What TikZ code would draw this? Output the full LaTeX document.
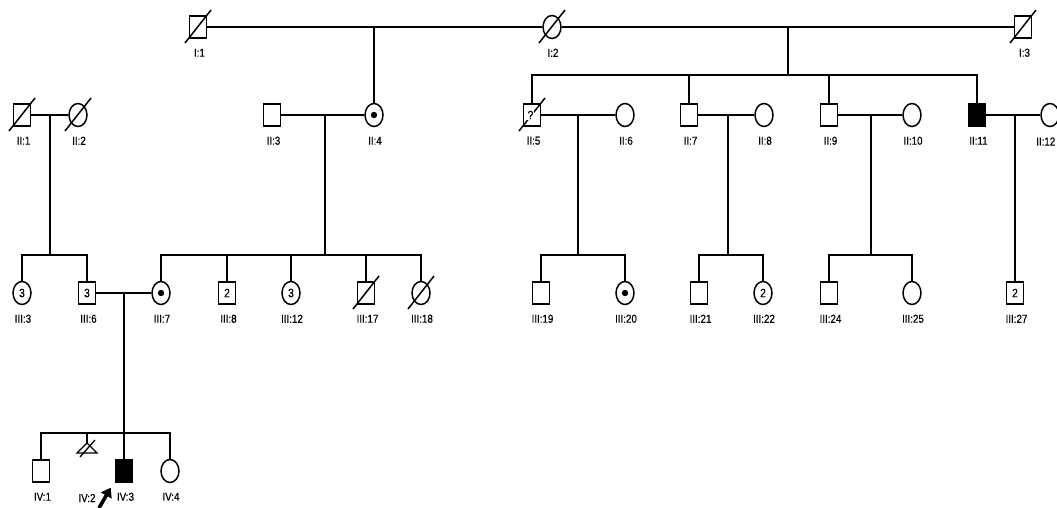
\documentclass[tikz,border=0pt]{standalone}
\usepackage{fontspec}
\setmainfont{Liberation Sans}
\newfontfamily\lblfont{Liberation Sans}[FakeStretch=0.85,FakeBold=0.4]
\usetikzlibrary{shapes.geometric,arrows.meta}
\newcommand\deadslash[1]{\draw ([shift={(-13,16)}]#1.center) -- ([shift={(13,-17)}]#1.center);}
\begin{document}
\begin{tikzpicture}[x=1pt,y=-1pt,line width=1.5pt,
  lbl/.style={font=\lblfont\fontsize{11.5}{12}\selectfont,inner sep=0pt},
  male/.style={draw,rectangle,minimum width=17pt,minimum height=22pt,inner sep=0pt,font=\lblfont\fontsize{12}{12}\selectfont,
    label={[lbl,anchor=center,label distance=0pt,yshift=-14pt,xshift=1.5pt]below:#1}},
  female/.style={draw,ellipse,minimum width=18pt,minimum height=23pt,inner sep=0pt,font=\lblfont\fontsize{12}{12}\selectfont,
    label={[lbl,anchor=center,label distance=0pt,yshift=-13.5pt,xshift=1pt]below:#1}},
  aff/.style={fill=black}]
\useasboundingbox (0,0) rectangle (1057,508);
\fill[white] (0,0) rectangle (1057,508);
% Generation I
\node[male={I:1}] (I1) at (198,27) {};
\node[female={I:2}] (I2) at (552,27) {};
\node[male={I:3}] (I3) at (1023,27) {};
\draw (I1) -- (I2);
\draw (I2) -- (I3);
\coordinate (m1) at (374,27);
\coordinate (m2) at (788,27);
\coordinate (s2) at (788,75);
\deadslash{I1}\deadslash{I2}\deadslash{I3}
% Generation II
\node[male={II:1}] (II1) at (22,115) {};
\node[female={II:2}] (II2) at (78,115) {};
\node[male={II:3}] (II3) at (272,115) {};
\node[female={II:4}] (II4) at (374,115) {};
\node[male={II:5}] (II5) at (532,115) {};
\node[female={II:6}] (II6) at (625,115) {};
\node[male={II:7}] (II7) at (689,115) {};
\node[female={II:8}] (II8) at (764,115) {};
\node[male={II:9}] (II9) at (829,115) {};
\node[female={II:10}] (II10) at (912,115) {};
\node[male={II:11},aff] (II11) at (977,115) {};
\node[draw,ellipse,minimum width=18pt,minimum height=23pt,inner sep=0pt,
  label={[lbl,anchor=north east,label distance=0pt,yshift=-9.5pt,xshift=6pt]below:II:12}] (II12) at (1050,115) {};
\fill (II4.center) circle (3.2pt);
\deadslash{II1}\deadslash{II2}\deadslash{II5}
\node[fill=white,inner sep=1pt,font=\lblfont\fontsize{12}{12}\selectfont] (II5q) at ([shift={(-1.5,0)}]II5.center) {?};
\draw (m1) -- (II4.north);
\draw (m2) -- (s2);
\draw (II5.north) |- (s2) -| (II11.north);
\draw (II7.north) -- (II7.north |- s2);
\draw (II9.north) -- (II9.north |- s2);
\draw (II1) -- (II2);
\draw (II3) -- (II4);
\draw (II5) -- (II6);
\draw (II7) -- (II8);
\draw (II9) -- (II10);
\draw (II11) -- (II12);
\coordinate (c1) at (50,115);
\coordinate (c2) at (325,115);
\coordinate (c3) at (578,115);
\coordinate (c4) at (728,115);
\coordinate (c5) at (871,115);
\coordinate (c6) at (1015,115);
\coordinate (sA) at (50,255);
\coordinate (sB) at (325,255);
\coordinate (sC) at (578,255);
\coordinate (sD) at (728,255);
\coordinate (sE) at (871,255);
% Generation III
\node[female={III:3}] (III3) at (22,293) {3};
\node[male={III:6}] (III6) at (87,293) {3};
\node[female={III:7}] (III7) at (161,293) {};
\node[male={III:8}] (III8) at (227,293) {2};
\node[female={III:12}] (III12) at (291,293) {3};
\node[male={III:17}] (III17) at (366,293) {};
\node[female={III:18}] (III18) at (421,293) {};
\node[male={III:19}] (III19) at (541,293) {};
\node[female={III:20}] (III20) at (625,293) {};
\node[male={III:21}] (III21) at (699,293) {};
\node[female={III:22}] (III22) at (763,293) {2};
\node[male={III:24}] (III24) at (829,293) {};
\node[female={III:25}] (III25) at (912,293) {};
\node[male={III:27}] (III27) at (1015,293) {2};
\fill (III7.center) circle (3.2pt);
\fill (III20.center) circle (3.2pt);
\deadslash{III17}\deadslash{III18}
\draw (c1) -- (sA);
\draw (III3.north) |- (sA) -| (III6.north);
\draw (c2) -- (sB);
\draw (III7.north) |- (sB) -| (III18.north);
\draw (III8.north) -- (III8.north |- sB);
\draw (III12.north) -- (III12.north |- sB);
\draw (III17.north) -- (III17.north |- sB);
\draw (c3) -- (sC);
\draw (III19.north) |- (sC) -| (III20.north);
\draw (c4) -- (sD);
\draw (III21.north) |- (sD) -| (III22.north);
\draw (c5) -- (sE);
\draw (III24.north) |- (sE) -| (III25.north);
\draw (c6) -- (III27.north);
\draw (III6) -- (III7);
\coordinate (c7) at (124,293);
\coordinate (sF) at (124,433);
% Generation IV
\node[male={IV:1}] (IV1) at (41,471) {};
\coordinate (IV2) at (87,443);
\draw[line width=1.3pt] (IV2) -- (97,453) -- (77,453) -- cycle;
\draw[line width=1.3pt] (80,457) -- (95,440);
\node[lbl] (IV2l) at (87,498) {IV:2};
\node[male={IV:3},aff] (IV3) at (124,471) {};
\node[female={IV:4}] (IV4) at (170,471) {};
\draw (c7) -- (IV3.north);
\draw (IV1.north) |- (sF) -| (IV4.north);
\draw (IV2) -- (IV2 |- sF);
\coordinate (ptail) at (99,508);
\draw[line width=3.6pt,-{Triangle[length=9pt,width=12pt]}] (ptail) -- ([shift={(-4,5)}]IV3.south west);
\end{tikzpicture}
\end{document}
